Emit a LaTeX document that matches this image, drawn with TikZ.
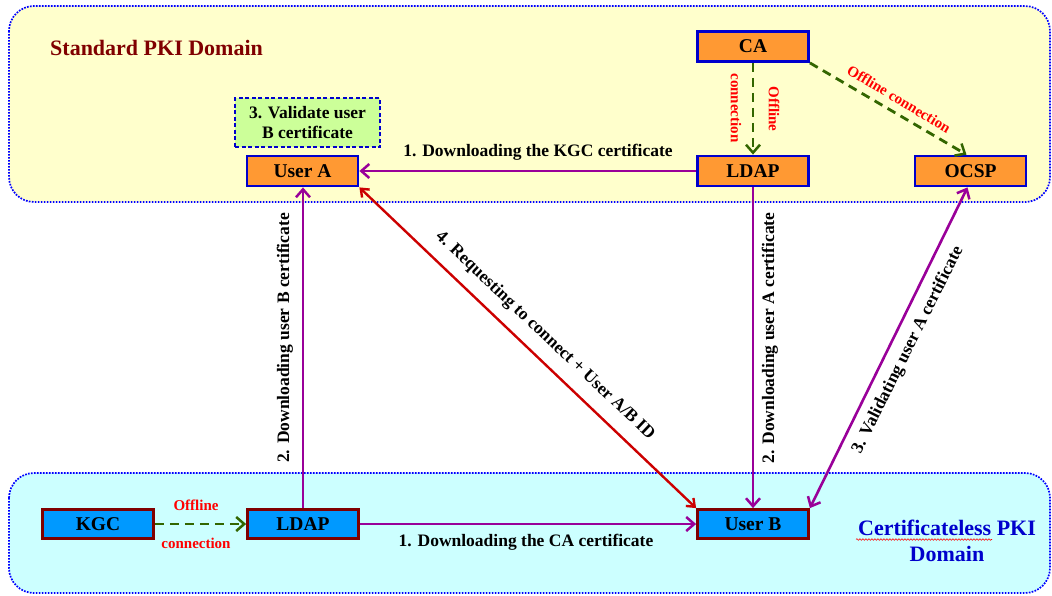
\documentclass[tikz,border=0pt]{standalone}
\usepackage{fontspec}
\setmainfont{Liberation Serif}
\usetikzlibrary{arrows.meta,decorations.pathmorphing}
\definecolor{dyellow}{HTML}{FFFFCC}
\definecolor{dcyan}{HTML}{CCFFFF}
\definecolor{orangebox}{HTML}{FF9933}
\definecolor{bluebox}{HTML}{0099FF}
\definecolor{boxblue}{HTML}{0000CC}
\definecolor{darkred}{HTML}{800000}
\definecolor{purp}{HTML}{990099}
\definecolor{redarrow}{HTML}{CC0000}
\definecolor{dgreen}{HTML}{336600}
\definecolor{lgreen}{HTML}{CCFF99}
\definecolor{domblue}{HTML}{0000CC}
\begin{document}
\begin{tikzpicture}[x=1pt,y=-1pt,
  domainbox/.style={draw=blue, line width=1.7pt, dash pattern=on 1.7pt off 1.3pt, rounded corners=25pt},
  pkibox/.style={draw=boxblue, fill=orangebox, line width=2.8pt, minimum width=111pt, minimum height=30pt, inner sep=0pt, font=\fontsize{19.5}{22}\selectfont\bfseries},
  clbox/.style={draw=darkred, fill=bluebox, line width=2.8pt, minimum width=111pt, minimum height=29pt, inner sep=0pt, font=\fontsize{19.5}{22}\selectfont\bfseries},
  tipx/.tip={Straight Barb[length=8pt,width=14pt,line width=2.5pt]},
  flow/.style={draw=purp, line width=2.6pt, -tipx},
  reqflow/.style={draw=redarrow, line width=2.4pt, {Straight Barb[length=7pt,width=11pt]}-{Straight Barb[length=7pt,width=11pt]}},
  offline/.style={draw=dgreen, line width=2.8pt, dash pattern=on 9pt off 6pt, -tipx},
  lab/.style={font=\fontsize{17.5}{20}\selectfont\bfseries, inner sep=0pt},
  redlab/.style={text=red, font=\fontsize{15}{17}\selectfont\bfseries, inner sep=0pt},
  domtitle/.style={font=\fontsize{22}{26}\selectfont\bfseries, inner sep=0pt}
]
\useasboundingbox (0,0) rectangle (1052,595);
% domains
\draw[domainbox, fill=dyellow] (9,6) rectangle (1050,202);
\draw[domainbox, fill=dcyan] (9,473) rectangle (1050,593);
\node[domtitle, text=darkred, anchor=west] (stdtitle) at (50,48) {Standard PKI Domain};
\node[domtitle, text=domblue, align=center] (cltitle) at (947,541) {Certificateless PKI\\Domain};
\draw[red, line width=0.6pt, decorate, decoration={snake, amplitude=0.8pt, segment length=3pt}] (856,539.5) -- (992,539.5);

% nodes
\node[pkibox] (ca) at (753,46.5) {CA};
\node[pkibox] (ldapt) at (753,171) {LDAP};
\node[pkibox] (ocsp) at (970.5,171) {OCSP};
\node[pkibox] (ua) at (302.5,171) {User A};
\node[draw=boxblue, fill=lgreen, line width=1.8pt, dash pattern=on 4pt off 2.5pt, minimum width=145pt, minimum height=49pt, inner sep=0pt, align=center, font=\fontsize{17.5}{20}\selectfont\bfseries] (val) at (307.5,122.5) {3. Validate user\\B certificate};
\node[clbox] (kgc) at (98,524) {KGC};
\node[clbox] (ldapb) at (303,524) {LDAP};
\node[clbox] (ub) at (753,524) {User B};

% connectors
\draw[offline] (ca) -- (ldapt);
\draw[offline] (ca.south east) -- ([xshift=-4pt]ocsp.north);
\draw[offline] (kgc) -- (ldapb);
\draw[flow] (ldapt) -- (ua);
\draw[flow] (ldapt) -- (ub);
\draw[flow] (ldapb) -- (ub);
\draw[flow] (ldapb.north) -- (ldapb.north |- ua.south);
\draw[flow, tipx-tipx] (ub.north east) -- ([xshift=-3pt]ocsp.south);
\draw[reqflow] (ua.south east) -- (ub.north west);

% labels
\node[lab] (l1) at (538,152) {1. Downloading the KGC certificate};
\node[lab] (l2) at (526,542) {1. Downloading the CA certificate};
\node[redlab] (o1) at (196,505) {Offline};
\node[redlab] (o2) at (196,543) {connection};
\node[redlab, rotate=-90] (o3) at (774,109) {Offline};
\node[redlab, rotate=-90] (o4) at (736,108) {connection};
\node[redlab, rotate=-31] (o5) at (899,99) {Offline connection};
\node[lab, rotate=90] (l3) at (285,338) {2. Downloading user B certificate};
\node[lab, rotate=90] (l4) at (770,338) {2. Downloading user A certificate};
\node[lab, rotate=-43.4] (l5) at (545,336) {4. Requesting to connect + User A/B ID};
\node[lab, rotate=63.4] (l6) at (908,350) {3. Validating user A certificate};
\end{tikzpicture}
\end{document}
